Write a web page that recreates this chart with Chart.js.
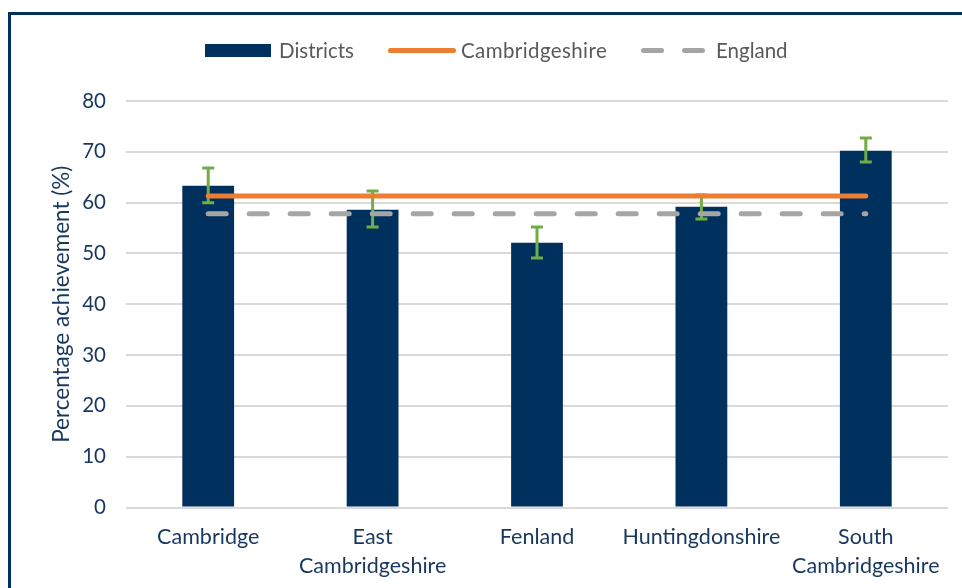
<!DOCTYPE html>
<html>
<head>
<meta charset="utf-8">
<script src="https://cdn.jsdelivr.net/npm/chart.js@4/dist/chart.umd.min.js"></script>
<style>
	body { margin: 0; background: #fff; font-family: Lato, sans-serif; overflow: hidden; }
	#frame { position: absolute; left: 8px; top: 12px; width: 1000px; height: 700px; border-left: 3px solid #00305e; border-top: 3px solid #00305e; }
	#wrap { position: absolute; left: 0; top: 0; width: 962px; height: 596px; }
	#legend { position: absolute; top: 38px; left: 0; height: 24px; font-size: 20.5px; color: #595959; }
	.item { position: absolute; top: 0; height: 24px; line-height: 24px; white-space: nowrap; }
	.sw { position: absolute; }
</style>
</head>
<body>
<div id="frame"></div>
<div id="wrap"><canvas id="myChart" width="962" height="596"></canvas></div>
<div id="legend">
	<div class="sw" style="left:205px; top:6px; width:66px; height:13px; background:#00305e;"></div>
	<div class="item" style="left:279px;">Districts</div>
	<div class="sw" style="left:388px; top:10px; width:68px; height:5px; border-radius:3px; background:#ed7d31;"></div>
	<div class="item" style="left:461px; letter-spacing:0.4px;">Cambridgeshire</div>
	<div class="sw" style="left:641px; top:10px; width:23px; height:5px; border-radius:3px; background:#a5a5a5;"></div>
	<div class="sw" style="left:682px; top:10px; width:23px; height:5px; border-radius:3px; background:#a5a5a5;"></div>
	<div class="item" style="left:716px;">England</div>
</div>
<script>
const categories = ['Cambridge', ['East', 'Cambridgeshire'], 'Fenland', 'Huntingdonshire', ['South', 'Cambridgeshire']];
const districts = [63.3, 58.6, 52.1, 59.2, 70.2];
const lowerCI = [60.0, 55.2, 49.1, 56.8, 68.0];
const upperCI = [66.8, 62.3, 55.2, 61.5, 72.7];
const cambridgeshire = [61.3, 61.3, 61.3, 61.3, 61.3];
const england = [57.8, 57.8, 57.8, 57.8, 57.8];
const yMin = 0;
const yMax = 80;
const yStep = 10;

const navy = '#00305e';
const axisText = '#17375e';

// whiskers go on top of the bars but under the two lines
const errorBars = {
	id: 'errorBars',
	afterDatasetDraw(chart, args) {
		if (args.index !== 0) return;
		const ctx = chart.ctx;
		const x = chart.scales.x;
		const y = chart.scales.y;
		ctx.save();
		ctx.strokeStyle = '#70ad47';
		ctx.lineWidth = 3;
		for (let i = 0; i < districts.length; i++) {
			const px = x.getPixelForValue(i);
			const top = y.getPixelForValue(upperCI[i]);
			const bot = y.getPixelForValue(lowerCI[i]);
			ctx.beginPath();
			ctx.moveTo(px, top);
			ctx.lineTo(px, bot);
			ctx.moveTo(px - 6, top);
			ctx.lineTo(px + 6, top);
			ctx.moveTo(px - 6, bot);
			ctx.lineTo(px + 6, bot);
			ctx.stroke();
		}
		ctx.restore();
	},
};

const data = {
	labels: categories,
	datasets: [
		{
			type: 'bar',
			label: 'Districts',
			data: districts,
			backgroundColor: navy,
			barPercentage: 0.63,
			categoryPercentage: 0.5,
			order: 3,
		},
		{
			type: 'line',
			label: 'Cambridgeshire',
			data: cambridgeshire,
			borderColor: '#ed7d31',
			borderWidth: 5,
			borderCapStyle: 'round',
			pointRadius: 0,
			order: 1,
		},
		{
			type: 'line',
			label: 'England',
			data: england,
			borderColor: '#a5a5a5',
			borderWidth: 5,
			borderCapStyle: 'round',
			borderDash: [18, 23],
			pointRadius: 0,
			order: 2,
		},
	],
};

const config = {
	type: 'bar',
	data: data,
	plugins: [errorBars],
	options: {
		responsive: false,
		animation: false,
		layout: { padding: { top: 101, left: 48, right: 14, bottom: 0 } },
		plugins: {
			legend: { display: false },
			tooltip: { enabled: false },
		},
		scales: {
			x: {
				grid: { display: false, drawTicks: false },
				border: { display: false },
				ticks: {
					color: axisText,
					font: { family: 'Lato', size: 21.5, lineHeight: 1.36 },
					padding: 15,
					maxRotation: 0,
					autoSkip: false,
				},
			},
			y: {
				min: yMin,
				max: yMax,
				grid: { color: '#d9d9d9', lineWidth: 2, drawTicks: false },
				border: { display: false },
				afterFit: function (axis) {
					axis.width = 78;
				},
				ticks: {
					stepSize: yStep,
					color: axisText,
					font: { family: 'Lato', size: 20.5 },
					padding: 20,
				},
				title: {
					display: true,
					text: 'Percentage achievement (%)',
					color: axisText,
					font: { family: 'Lato', size: 22.5 },
					padding: { top: 0, bottom: 0 },
				},
			},
		},
	},
};

const myChart = new Chart(document.getElementById('myChart'), config);
</script>
</body>
</html>
